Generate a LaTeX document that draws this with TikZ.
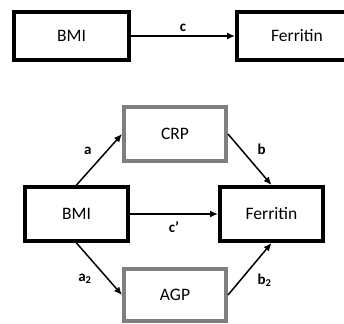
\documentclass[tikz,border=0pt]{standalone}
\usepackage{fontspec}
\setmainfont{Carlito}
\usetikzlibrary{arrows.meta}
\definecolor{boxgray}{HTML}{7F7F7F}
\tikzset{var/.style={draw,line width=4pt,inner sep=0pt,font=\fontsize{17.5}{20}\selectfont}}
\tikzset{mediator/.style={var,draw=boxgray}}
\tikzset{path/.style={line width=1.5pt,-{Latex[length=8pt,width=7pt]}}}
\tikzset{coef/.style={font=\fontsize{15}{17}\selectfont\bfseries,inner sep=4pt}}

\begin{document}
\begin{tikzpicture}[x=1pt,y=-1pt]
\useasboundingbox (0,0) rectangle (344,323);
\node[var,minimum width=115,minimum height=48](bmi)at(71.5,36){BMI};
\node[var,minimum width=120,minimum height=48](fer)at(297,36){Ferritin};
\draw[path](bmi) -- (fer.west) node[coef,midway,above]{c};
\node[var,minimum width=103,minimum height=54](bmi2)at(76.5,214){BMI};
\node[var,minimum width=103,minimum height=54](fer2)at(271.5,214){Ferritin};
\node[mediator,minimum width=102,minimum height=54](crp)at(175,134){CRP};
\node[mediator,minimum width=102,minimum height=52](agp)at(175,295){AGP};
\draw[path](bmi2.north) -- (crp.west) node[coef,midway,above left,xshift=-3pt]{a};
\draw[path](crp.east) -- (fer2.north) node[coef,midway,above right,xshift=3pt]{b};
\draw[path](bmi2) -- (fer2) node[coef,midway,below,yshift=-3pt]{c’};
\draw[path](bmi2.south) -- (agp.west) node[coef,midway,below left,xshift=-3pt]{a\textsubscript{2}};
\draw[path](agp.east) -- (fer2.south) node[coef,midway,below right,xshift=3pt]{b\textsubscript{2}};
\end{tikzpicture}
\end{document}
